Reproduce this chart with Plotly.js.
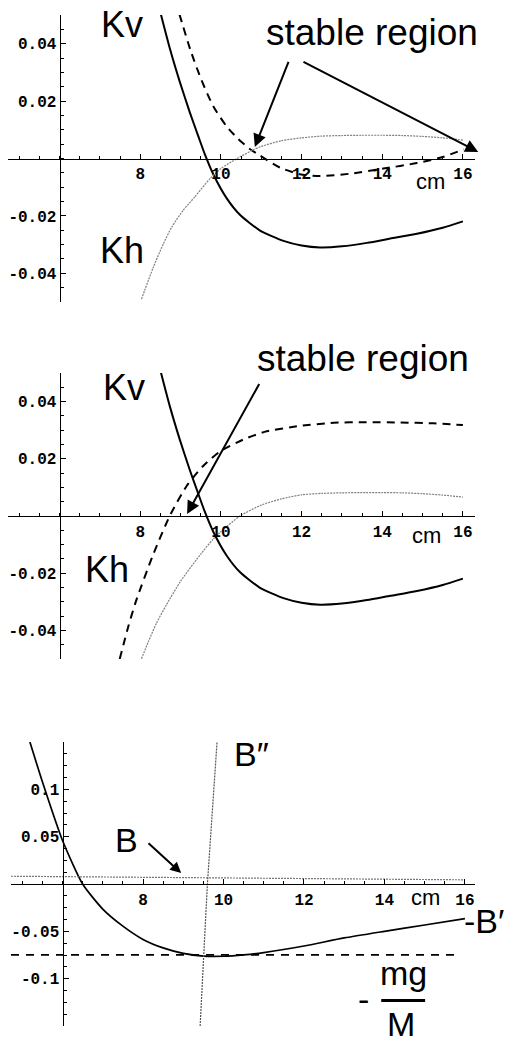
<!DOCTYPE html>
<html>
<head>
<meta charset="utf-8">
<script src="https://cdn.plot.ly/plotly-3.0.1.min.js"></script>
<style>
html, body { margin: 0; padding: 0; background: #fff; }
#plot { width: 506px; height: 1038px; }
</style>
</head>
<body>
<div id="plot"></div>
<script>
// ---------- data ----------

// top and middle panel: the solid curve is the same in both
const solidX = [8.51, 8.73, 8.98, 9.23, 9.44, 9.6, 9.81, 10.14, 10.47, 10.97, 11.55, 12.0, 12.46, 13.0, 13.62, 14.2, 14.86, 15.5, 16.0];
const solidY = [0.0503, 0.0385, 0.0267, 0.016, 0.0077, 0.0015, -0.0055, -0.0138, -0.0196, -0.0251, -0.0287, -0.0303, -0.031, -0.0306, -0.0294, -0.0279, -0.0262, -0.0241, -0.0219];

const dash1X = [8.97, 9.25, 9.52, 9.81, 10.14, 10.43, 10.7, 10.97, 11.47, 11.96, 12.46, 13.2, 14.03, 14.86, 15.52, 16.02];
const dash1Y = [0.0503, 0.0375, 0.0272, 0.0182, 0.0112, 0.0068, 0.0035, 0.001, -0.0032, -0.0055, -0.0061, -0.0053, -0.0035, -0.0016, 0.0006, 0.0032];

const dot1X = [8.03, 8.32, 8.57, 8.78, 9.06, 9.35, 9.73, 10.0, 10.4, 10.8, 11.0, 11.5, 12.0, 12.5, 13.0, 13.5, 14.0, 14.5, 15.0, 15.5, 16.0];
const dot1Y = [-0.049, -0.038, -0.0298, -0.0239, -0.0181, -0.0134, -0.007, -0.0035, 0, 0.003, 0.0042, 0.0062, 0.0072, 0.0078, 0.008, 0.0081, 0.0081, 0.008, 0.0077, 0.0072, 0.0064];

const dash2X = [7.49, 7.7, 7.9, 8.32, 8.73, 9.15, 9.56, 9.97, 10.55, 11.1, 11.96, 12.8, 13.6, 14.45, 15.27, 16.0];
const dash2Y = [-0.05, -0.0388, -0.0295, -0.0135, 0, 0.0105, 0.0175, 0.0225, 0.0267, 0.0295, 0.0315, 0.0326, 0.0328, 0.0327, 0.0324, 0.0318];

const dot2X = [8.03, 8.2, 8.4, 8.65, 9.0, 9.5, 9.8, 10.0, 10.47, 11.0, 11.5, 12.0, 12.5, 13.0, 13.6, 14.0, 14.5, 15.0, 15.5, 16.0];
const dot2Y = [-0.0499, -0.044, -0.0375, -0.031, -0.0228, -0.0133, -0.0082, -0.0055, 0, 0.0038, 0.006, 0.0074, 0.0079, 0.0081, 0.0082, 0.0082, 0.0081, 0.0078, 0.0073, 0.0066];

// bottom panel
const bX = [5.19, 5.5, 6.0, 6.5, 7.0, 7.5, 8.0, 8.5, 9.0, 9.5, 10.0, 10.5, 11.0, 12.0, 13.0, 14.0, 15.0, 16.0];
const bY = [0.15, 0.108, 0.046, 0, -0.0265, -0.0445, -0.0585, -0.0675, -0.0733, -0.0761, -0.0763, -0.0749, -0.0725, -0.0655, -0.057, -0.05, -0.0433, -0.0365];
const mgX = [4.72, 15.9];
const mgY = [-0.0749, -0.0749];
const flatBX = [4.72, 8.0, 10.0, 12.0, 14.0, 16.0];
const flatBY = [0.0082, 0.0072, 0.0064, 0.0056, 0.005, 0.0044];
const steepX = [9.42, 9.6, 9.84];
const steepY = [-0.15, 0, 0.15];

// axes
const xRange = [4.72, 16.3];
const xRange3 = [4.72, 16.25];
const xTicks = [8, 10, 12, 14, 16];
const yRangeK = [-0.05, 0.05];
const yTicksK = [-0.04, -0.02, 0.02, 0.04];
const yTextK = ['-0.04', '-0.02', '0.02', '0.04'];
const yRangeB = [-0.15, 0.15];
const yTicksB = [-0.1, -0.05, 0.05, 0.1];
const yTextB = ['-0.1', '-0.05', '0.05', '0.1'];

// text labels: [text, x, y, size]
const labels1 = [['Kv', 7.55, 0.0468, 36], ['Kh', 7.55, -0.0321, 36], ['stable region', 13.75, 0.044, 37], ['cm', 15.19, -0.0079, 22]];
const labels2 = [['Kv', 7.59, 0.0451, 36], ['Kh', 7.18, -0.0186, 36], ['cm', 15.09, -0.0067, 22]];
const labels3 = [['B″', 10.7, 0.137, 34], ['B', 7.59, 0.046, 34], ['cm', 15.03, -0.0143, 22],
                 ['mg', 14.48, -0.0935, 34], ['M', 14.41, -0.1475, 34], ['-', 13.48, -0.121, 34]];

// arrows: [tailX, tailY, headX, headY]
const arrows1 = [[11.69, 0.0342, 10.84, 0.004], [12.01, 0.0339, 16.38, 0.0023]];
const arrows2 = [[10.97, 0.0467, 9.16, 0.0007]];
const arrows3 = [[8.1, 0.0444, 8.95, 0.0115]];

// ---------- layout helpers ----------
const W = 506, H = 1038;
const textFont = 'Liberation Sans, Arial, sans-serif';
const tickFont = { family: 'Liberation Mono, Courier New, monospace', size: 16, color: '#000', weight: 'bold' };

function xAxis(range, dom, yDom, yRange) {
    // put the x axis where y = 0
    const pos = yDom[0] + (0 - yRange[0]) / (yRange[1] - yRange[0]) * (yDom[1] - yDom[0]);
    return {
        domain: dom, range: range, anchor: 'free', position: pos,
        showline: true, linecolor: '#000', linewidth: 1.3,
        showgrid: false, zeroline: false,
        ticks: 'inside', ticklen: 5, tickwidth: 1, tickcolor: '#000',
        tickvals: xTicks, tickfont: tickFont,
        minor: { dtick: 0.5, tick0: 0, ticks: 'inside', ticklen: 3, tickcolor: '#000', showgrid: false }
    };
}

function yAxis(range, dom, xDom, xr, vals, text, minorStep) {
    // y axis crosses at x = 6
    const pos = xDom[0] + (6 - xr[0]) / (xr[1] - xr[0]) * (xDom[1] - xDom[0]);
    return {
        domain: dom, range: range, anchor: 'free', position: pos,
        showline: true, linecolor: '#000', linewidth: 1.3,
        showgrid: false, zeroline: false,
        ticks: 'inside', ticklen: 5, tickwidth: 1, tickcolor: '#000',
        tickvals: vals, ticktext: text, tickfont: tickFont, ticklabelstandoff: 0,
        minor: { dtick: minorStep, tick0: 0, ticks: 'inside', ticklen: 3, tickcolor: '#000', showgrid: false }
    };
}

const xDom = [8 / W, 475 / W];
const xDom3 = [11 / W, 475 / W];
const yDom1 = [1 - 302 / H, 1 - 15 / H];
const yDom2 = [1 - 659 / H, 1 - 373 / H];
const yDom3 = [1 - 1026 / H, 1 - 742 / H];

function line(x, y, ax, style) {
    return Object.assign({ x: x, y: y, xaxis: 'x' + ax, yaxis: 'y' + ax, mode: 'lines',
        hoverinfo: 'none', showlegend: false }, style);
}

const solidStyle = { line: { color: '#000', width: 2, shape: 'spline', smoothing: 0.6 } };
const dashStyle = { line: { color: '#000', width: 2, dash: '8px,6px', shape: 'spline', smoothing: 0.6 } };
const dotStyle = { line: { color: '#808080', width: 1.2, dash: '2px,1px', shape: 'spline', smoothing: 0.6 } };

const traces = [
    line(solidX, solidY, '', solidStyle),
    line(dash1X, dash1Y, '', dashStyle),
    line(dot1X, dot1Y, '', dotStyle),
    line(solidX, solidY, '2', solidStyle),
    line(dash2X, dash2Y, '2', dashStyle),
    line(dot2X, dot2Y, '2', dotStyle),
    line(bX, bY, '3', { line: { color: '#000', width: 1.7, shape: 'spline', smoothing: 0.6 } }),
    line(mgX, mgY, '3', { line: { color: '#000', width: 1.6, dash: '8px,7px' } }),
    line(flatBX, flatBY, '3', { line: { color: '#777', width: 1.2, dash: '2px,1px' } }),
    line(steepX, steepY, '3', { line: { color: '#555', width: 1.2, dash: '2px,1px' } })
];

const annotations = [];
function addLabels(list, ax) {
    list.forEach(l => annotations.push({
        text: l[0], x: l[1], y: l[2], xref: 'x' + ax, yref: 'y' + ax,
        showarrow: false, xanchor: 'center', yanchor: 'middle',
        font: { family: textFont, size: l[3], color: '#000' }
    }));
}
function addArrows(list, ax, size) {
    list.forEach(a => annotations.push({
        text: '', x: a[2], y: a[3], ax: a[0], ay: a[1],
        xref: 'x' + ax, yref: 'y' + ax, axref: 'x' + ax, ayref: 'y' + ax,
        showarrow: true, arrowhead: 2, arrowsize: size, arrowwidth: 2, arrowcolor: '#000', standoff: 0
    }));
}
addLabels(labels1, '');
addLabels(labels2, '2');
addLabels(labels3, '3');
addArrows(arrows1, '', 1.3);
addArrows(arrows2, '2', 1.3);
addArrows(arrows3, '3', 1.1);

// middle panel's "stable region" sits above the plot box
annotations.push({
    text: 'stable region', x: 13.52, y: 1.052, xref: 'x2', yref: 'y2 domain',
    showarrow: false, xanchor: 'center', yanchor: 'middle',
    font: { family: textFont, size: 37, color: '#000' }
});
// "-B′" label at the right edge of the bottom panel
annotations.push({
    text: '-B′', x: 15.93, y: -0.0396, xref: 'x3', yref: 'y3',
    showarrow: false, xanchor: 'left', yanchor: 'middle',
    font: { family: textFont, size: 34, color: '#000' }
});

// fraction bar of mg/M
const shapes = [{
    type: 'line', xref: 'x3', yref: 'y3', x0: 13.92, x1: 15.01, y0: -0.123, y1: -0.123,
    line: { color: '#000', width: 3 }
}];

const layout = {
    width: W, height: H,
    margin: { l: 0, r: 0, t: 0, b: 0 },
    paper_bgcolor: '#fff', plot_bgcolor: 'rgba(0,0,0,0)',
    showlegend: false,
    xaxis: xAxis(xRange, xDom, yDom1, yRangeK),
    yaxis: yAxis(yRangeK, yDom1, xDom, xRange, yTicksK, yTextK, 0.005),
    xaxis2: xAxis(xRange, xDom, yDom2, yRangeK),
    yaxis2: yAxis(yRangeK, yDom2, xDom, xRange, yTicksK, yTextK, 0.005),
    xaxis3: xAxis(xRange3, xDom3, yDom3, yRangeB),
    yaxis3: yAxis(yRangeB, yDom3, xDom3, xRange3, yTicksB, yTextB, 0.0125),
    annotations: annotations,
    shapes: shapes
};

Plotly.newPlot('plot', traces, layout, { staticPlot: true });
</script>
</body>
</html>
